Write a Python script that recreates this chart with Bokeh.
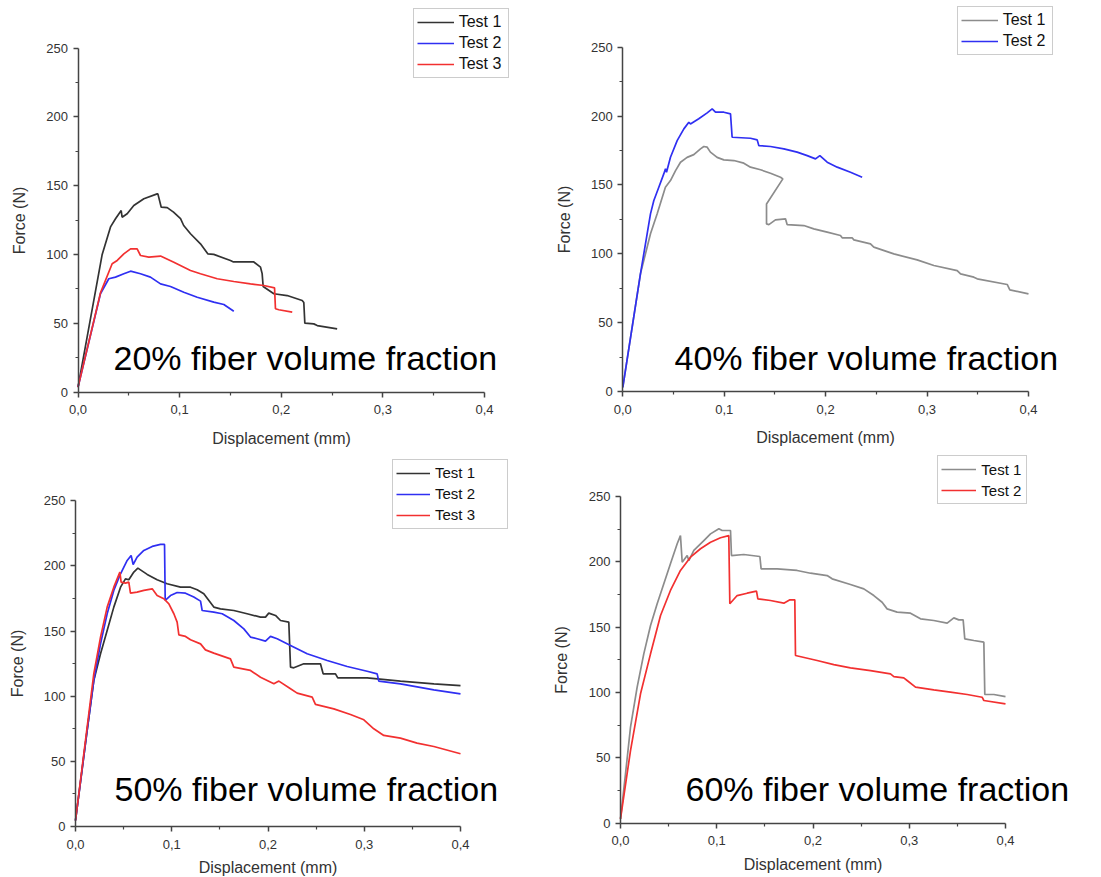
from bokeh.plotting import figure
from bokeh.models import Range1d, FixedTicker, Legend, LegendItem, Label
from bokeh.layouts import column, row
from bokeh.embed import file_html
from bokeh.resources import INLINE

# ---------------- data ----------------
x_ticks = [0.0, 0.1, 0.2, 0.3, 0.4]
x_tick_labels = ["0,0", "0,1", "0,2", "0,3", "0,4"]
x_minor = [0.05, 0.15, 0.25, 0.35]
y_ticks = [0, 50, 100, 150, 200, 250]
y_minor = [25, 75, 125, 175, 225]
x_label = "Displacement (mm)"
y_label = "Force (N)"

# 20% fiber volume fraction
f20_t1_x = [0, 0.0238, 0.032, 0.0369, 0.0425, 0.0434, 0.0484, 0.0549, 0.0648, 0.0779, 0.0786, 0.0819,
            0.0878, 0.094, 0.1009, 0.104, 0.1107, 0.1205, 0.1277, 0.1336, 0.150, 0.153, 0.173, 0.1796,
            0.1812, 0.1822, 0.1927, 0.2058, 0.2206, 0.2222, 0.2232, 0.232, 0.2354, 0.255]
f20_t1_y = [3.5, 100, 120, 125.9, 131.9, 127, 129.5, 135.5, 140.4, 144, 144, 134.3,
            134, 130.7, 126, 121, 115, 107.7, 100.4, 100, 95.6, 94.5, 94.5, 90.7,
            86, 76.7, 71.4, 70.1, 66.5, 65, 50, 49.5, 48.3, 45.9]
f20_t2_x = [0, 0.0221, 0.0303, 0.0369, 0.0451, 0.0517, 0.0615, 0.0713, 0.0812, 0.091, 0.1041,
            0.1173, 0.1336, 0.1435, 0.1533]
f20_t2_y = [3.5, 71.4, 82.3, 83.5, 85.9, 87.8, 85.9, 83.5, 78.6, 76.7, 72.5, 68.9, 65.3, 63.6, 58.7]
f20_t3_x = [0, 0.0221, 0.0336, 0.0386, 0.0451, 0.0517, 0.0582, 0.0615, 0.0697, 0.0812, 0.0943,
            0.1107, 0.1205, 0.137, 0.1533, 0.1697, 0.1828, 0.1934, 0.1943, 0.1976, 0.2108]
f20_t3_y = [3.5, 72, 93.2, 95.6, 100.4, 104, 104, 99.2, 98, 98.8, 94.3,
            88.3, 85.9, 82.3, 80.3, 78.6, 77.4, 75.7, 60.5, 59.8, 58]

# 40% fiber volume fraction
f40_t1_x = [0, 0.0174, 0.0273, 0.0339, 0.042, 0.047, 0.052, 0.0569, 0.0634, 0.070, 0.0766, 0.0799,
            0.0832, 0.0864, 0.093, 0.0996, 0.1095, 0.1193, 0.1259, 0.1358, 0.1456, 0.1555, 0.1578,
            0.1417, 0.1417, 0.144, 0.1505, 0.1604, 0.162, 0.1785, 0.1883, 0.2015, 0.2146, 0.2163,
            0.2261, 0.2278, 0.2442, 0.2475, 0.2672, 0.2902, 0.3067, 0.3297, 0.333, 0.3461, 0.3494,
            0.379, 0.3816, 0.4]
f40_t1_y = [3, 85.4, 114.5, 129, 148.3, 153.2, 160.4, 166.5, 170, 172, 176.2, 177.9,
            177.4, 173.8, 170, 168.2, 167.7, 165.8, 162.9, 161, 158.5, 155.6, 154.4,
            136.2, 121.7, 121.2, 124.6, 125.4, 121.2, 120.5, 118.1, 115.7, 113.3, 111.6,
            111.6, 110.1, 107.2, 104.8, 99.9, 95.6, 91.5, 87.8, 85.4, 83, 81.8,
            77.7, 73.8, 70.9]
f40_t2_x = [0, 0.0174, 0.024, 0.0273, 0.0306, 0.0355, 0.0404, 0.0421, 0.0431, 0.047, 0.0536, 0.0602,
            0.0651, 0.0667, 0.0749, 0.0832, 0.0881, 0.0914, 0.0996, 0.1062, 0.1078, 0.1259, 0.1325,
            0.1341, 0.1456, 0.1588, 0.1719, 0.1818, 0.19, 0.1943, 0.2015, 0.2114, 0.2245, 0.236]
f40_t2_y = [3, 85.4, 114.5, 129, 138.7, 148.3, 158, 161.7, 159.2, 170.1, 182.2, 190.7,
            195.5, 194.3, 198, 202.3, 205.2, 202.8, 202.8, 201.6, 184.6, 183.9, 182.7,
            178.6, 177.9, 176.2, 173.8, 171.3, 168.9, 171.3, 166.5, 162.9, 159.2, 155.6]

# 50% fiber volume fraction
f50_t1_x = [0, 0.0121, 0.019, 0.026, 0.0329, 0.0398, 0.0468, 0.0519, 0.0554, 0.0606, 0.0648, 0.0675,
            0.0745, 0.0848, 0.0952, 0.1091, 0.1195, 0.1264, 0.1333, 0.1437, 0.1506, 0.1645, 0.1783,
            0.1922, 0.1974, 0.2008, 0.2078, 0.213, 0.2216, 0.2234, 0.2268, 0.2372, 0.2545, 0.2573,
            0.2701, 0.2725, 0.303, 0.3376, 0.3723, 0.4]
f50_t1_y = [4.6, 73.7, 112, 132.6, 150.5, 168.4, 183.7, 190.1, 189.4, 195.3, 198.3, 197,
            193.5, 189.4, 186.3, 183.7, 183.7, 181.7, 178.6, 168.4, 167.1, 165.8, 163.3,
            160.7, 160.7, 163.8, 162, 158.1, 156.9, 122.3, 121.8, 124.9, 124.9, 117.2,
            117.2, 114.1, 114.1, 111.6, 109.5, 108.2]
f50_t2_x = [0, 0.0121, 0.019, 0.026, 0.0329, 0.0398, 0.0468, 0.0537, 0.0578, 0.0599, 0.064, 0.071,
            0.0797, 0.0883, 0.0925, 0.0932, 0.0987, 0.1056, 0.1143, 0.1229, 0.1299, 0.1316, 0.1437,
            0.1524, 0.1645, 0.1749, 0.1818, 0.1887, 0.1974, 0.2026, 0.2095, 0.2234, 0.2407, 0.2615,
            0.2823, 0.303, 0.3134, 0.3151, 0.3376, 0.3723, 0.4]
f50_t2_y = [4.6, 73.7, 112, 140.2, 163.3, 181.2, 194, 204.2, 208, 201.1, 206.8, 211.9,
            215, 216.5, 216.5, 173.5, 177.3, 179.6, 179.1, 176.1, 173, 165.8, 164.5,
            163.3, 158.1, 151.7, 145.4, 144.1, 142.3, 145.9, 144.1, 139, 132.6, 127.4,
            122.8, 119.2, 117.2, 111.6, 109.5, 104.9, 101.8]
f50_t3_x = [0, 0.0121, 0.019, 0.026, 0.0329, 0.0398, 0.0461, 0.0474, 0.0519, 0.0554, 0.0571, 0.064,
            0.071, 0.0797, 0.0848, 0.0918, 0.097, 0.1022, 0.1056, 0.1074, 0.1143, 0.1195, 0.1299,
            0.135, 0.1437, 0.161, 0.1645, 0.1818, 0.1922, 0.2061, 0.2113, 0.2234, 0.2303, 0.2459,
            0.2493, 0.2684, 0.2857, 0.2996, 0.3099, 0.3203, 0.3376, 0.3549, 0.3723, 0.4]
f50_t3_y = [4.6, 76.3, 117.2, 145.3, 168.4, 183.7, 195.3, 187.6, 186.8, 187.6, 179.1, 179.9,
            181.2, 182.4, 177.3, 174.8, 170.9, 163.3, 156.9, 147.1, 145.9, 143.3, 140.2,
            135.6, 133.1, 128.7, 122.3, 119.8, 114.6, 109.5, 111.6, 105.7, 102.4, 99.3,
            93.7, 90.3, 86, 81.9, 75, 69.9, 67.8, 64, 61.4, 55.8]

# 60% fiber volume fraction
f60_t1_x = [0, 0.0052, 0.0104, 0.0173, 0.0242, 0.0312, 0.0381, 0.045, 0.0519, 0.0589, 0.0623, 0.0641,
            0.0693, 0.071, 0.0762, 0.0866, 0.0935, 0.1022, 0.1056, 0.1143, 0.1153, 0.1281, 0.1448,
            0.1461, 0.1628, 0.1835, 0.1974, 0.2147, 0.2199, 0.2389, 0.2528, 0.2632, 0.2718, 0.277,
            0.2874, 0.3013, 0.3117, 0.3255, 0.3394, 0.3463, 0.3515, 0.356, 0.3577, 0.3671, 0.3775,
            0.3785, 0.3879, 0.4]
f60_t1_y = [3.3, 37.8, 73.5, 104.1, 129.6, 151.3, 167.9, 183.2, 198.5, 213.8, 220.1, 199.7,
            204.8, 201, 208.7, 216.3, 221.4, 225.3, 224, 224, 204.8, 205.6, 204.1,
            194.6, 194.6, 193.4, 191.3, 189.5, 187, 182.7, 179.3, 174.2, 169.1, 164,
            161.5, 160.7, 156.4, 155.1, 153.1, 157.1, 155.6, 155.6, 141.1, 139.8, 138.5,
            98.5, 98.5, 96.9]
f60_t2_x = [0, 0.0104, 0.0208, 0.0312, 0.0416, 0.0519, 0.0623, 0.0727, 0.0831, 0.0935, 0.1039, 0.1125,
            0.1136, 0.1212, 0.1316, 0.1413, 0.1427, 0.1558, 0.1697, 0.176, 0.1811, 0.1818, 0.2043,
            0.2216, 0.2389, 0.2597, 0.2805, 0.284, 0.2943, 0.2978, 0.3065, 0.3255, 0.3428, 0.3602,
            0.3757, 0.3775, 0.4]
f60_t2_y = [3.3, 55.6, 99, 129.6, 158.9, 178.1, 193.4, 203.6, 210, 215, 218.4, 220.1,
            167.9, 174.2, 176, 177.6, 171.7, 170.4, 168.4, 170.9, 170.9, 128.3, 124.5,
            121.4, 118.9, 116.8, 114.3, 112.2, 111.2, 109.2, 104.1, 102, 100.3, 98.5,
            96.4, 93.9, 91.3]

titles = ["20% fiber volume fraction", "40% fiber volume fraction",
          "50% fiber volume fraction", "60% fiber volume fraction"]

BLACK = "#333333"
GREY = "#8c8c8c"
BLUE = "#2f2ff2"
RED = "#f23030"
FONT = "Liberation Sans"
X_MAX = x_ticks[-1]
Y_MAX = y_ticks[-1]


def make_panel(w, h, ax_left, ax_right, ax_bottom, ax_top, series, leg_loc, leg_font,
               leg_label_w, leg_glyph_w, title, title_pos, xlab_standoff, ylab_standoff):
    # frame covers the whole figure; axes sit at fixed data locations
    sx = X_MAX / (ax_right - ax_left)
    sy = Y_MAX / (ax_bottom - ax_top)
    xr = Range1d(-ax_left * sx, (w - ax_left) * sx)
    yr = Range1d(-(h - ax_bottom) * sy, ax_bottom * sy)
    p = figure(width=w, height=h, output_backend="svg", toolbar_location=None,
               x_range=xr, y_range=yr,
               min_border_left=0, min_border_right=0, min_border_top=0, min_border_bottom=0)
    p.outline_line_color = None
    p.xgrid.visible = False
    p.ygrid.visible = False
    p.background_fill_color = "white"
    p.border_fill_color = "white"

    p.xaxis.ticker = FixedTicker(ticks=x_ticks, minor_ticks=x_minor)
    p.yaxis.ticker = FixedTicker(ticks=y_ticks, minor_ticks=y_minor)
    p.xaxis.major_label_overrides = {t: l for t, l in zip(x_ticks, x_tick_labels)}
    p.xaxis.axis_label = x_label
    p.yaxis.axis_label = y_label
    p.xaxis.fixed_location = 0
    p.yaxis.fixed_location = 0
    p.xaxis.bounds = (0, X_MAX)
    p.yaxis.bounds = (0, Y_MAX)
    for ax in (p.xaxis, p.yaxis):
        ax.axis_line_color = "#444444"
        ax.axis_line_width = 1.5
        ax.major_tick_line_color = "#444444"
        ax.major_tick_line_width = 1.5
        ax.minor_tick_line_color = "#444444"
        ax.minor_tick_line_width = 1.2
        ax.major_tick_out = 5
        ax.major_tick_in = 0
        ax.minor_tick_out = 3
        ax.minor_tick_in = 0
        ax.major_label_text_font = FONT
        ax.major_label_text_font_size = "13px"
        ax.major_label_text_color = "#333333"
        ax.axis_label_text_font = FONT
        ax.axis_label_text_font_size = "16px"
        ax.axis_label_text_font_style = "normal"
        ax.axis_label_text_color = "#333333"
    p.xaxis.major_label_standoff = 8
    p.yaxis.major_label_standoff = 5
    p.xaxis.axis_label_standoff = xlab_standoff
    p.yaxis.axis_label_standoff = ylab_standoff

    items = []
    for (xs, ys, col, lab) in series:
        r = p.line(xs, ys, line_color=col, line_width=1.7)
        items.append(LegendItem(label=lab, renderers=[r]))
    leg = Legend(items=items, location=leg_loc, margin=0, padding=3, spacing=1,
                 label_text_font=FONT, label_text_font_size=leg_font, label_text_color="#111111",
                 label_height=20, glyph_height=20, glyph_width=leg_glyph_w, label_standoff=5,
                 label_width=leg_label_w, border_line_color="#9a9a9a", border_line_width=1.5,
                 background_fill_color="white", background_fill_alpha=1.0)
    p.add_layout(leg)

    p.add_layout(Label(x=title_pos[0], y=title_pos[1], x_units="screen", y_units="screen",
                       text=title, text_font=FONT, text_font_size="34px", text_color="black",
                       text_baseline="alphabetic", text_align="left"))
    return p


TOP_H = 448
BOT_H = 428
p1 = make_panel(550, TOP_H, 77.5, 484, 391.5, 47.5,
                [(f20_t1_x, f20_t1_y, BLACK, "Test 1"),
                 (f20_t2_x, f20_t2_y, BLUE, "Test 2"),
                 (f20_t3_x, f20_t3_y, RED, "Test 3")],
                (412.7, 370), "16px", 46, 37, titles[0], (113, 91), 12, 16)
p2 = make_panel(550, TOP_H, 72.3, 478, 391, 46.7,
                [(f40_t1_x, f40_t1_y, GREY, "Test 1"),
                 (f40_t2_x, f40_t2_y, BLUE, "Test 2")],
                (406.7, 393), "16px", 46, 37, titles[1], (124, 91), 12, 15)
p3 = make_panel(550, BOT_H, 75, 460, 378, 52.3,
                [(f50_t1_x, f50_t1_y, BLACK, "Test 1"),
                 (f50_t2_x, f50_t2_y, BLUE, "Test 2"),
                 (f50_t3_x, f50_t3_y, RED, "Test 3")],
                (392, 347.3), "15px", 69, 34, titles[2], (114, 87.3), 7, 15)
p4 = make_panel(550, BOT_H, 70, 455, 374.7, 48,
                [(f60_t1_x, f60_t1_y, GREY, "Test 1"),
                 (f60_t2_x, f60_t2_y, RED, "Test 2")],
                (387.3, 371.7), "15px", 42, 35, titles[3], (135, 87.3), 7, 16)

layout = column(row(p1, p2), row(p3, p4))
open("out.html", "w").write(file_html(layout, INLINE))
